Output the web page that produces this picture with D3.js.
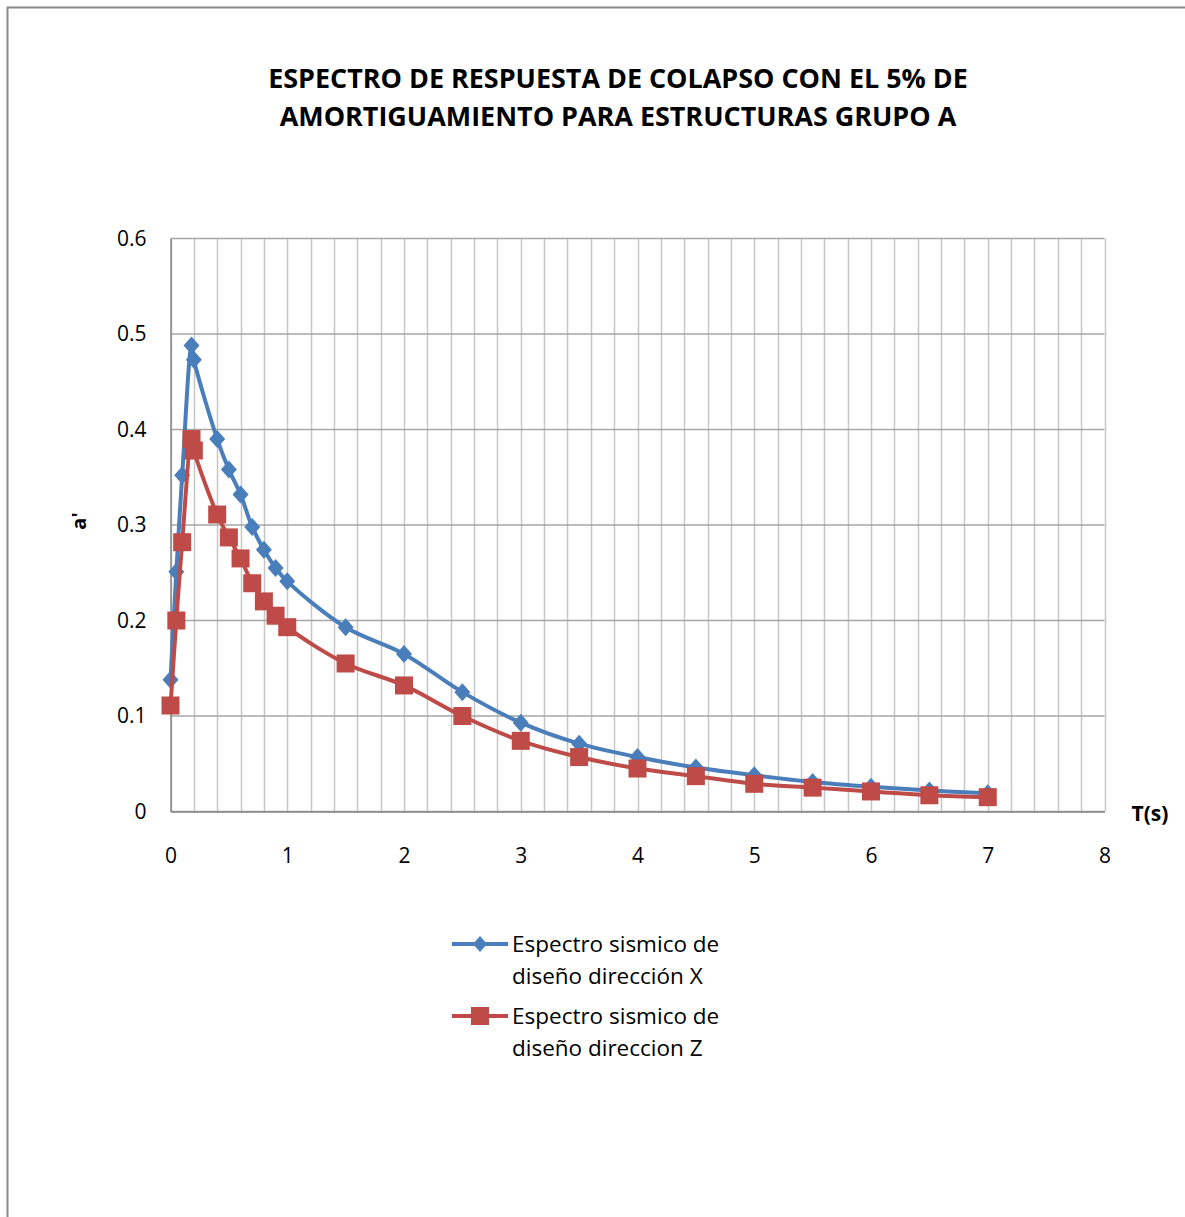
<!DOCTYPE html>
<html lang="es">
<head>
<meta charset="utf-8">
<title>Espectro de respuesta</title>
<script src="https://cdn.jsdelivr.net/npm/d3@7"></script>
<style>
  body { margin: 0; background: #fff; }
  text { font-family: "Open Sans", "Noto Sans", sans-serif; fill: #000; }
  .tick text { font-size: 21px; }
</style>
</head>
<body>
<script>
// periods (s)
var periods = [0, 0.05, 0.1, 0.18, 0.2, 0.4, 0.5, 0.6, 0.7, 0.8, 0.9, 1.0,
               1.5, 2, 2.5, 3, 3.5, 4, 4.5, 5, 5.5, 6, 6.5, 7];
// a' direccion X
var seriesX = [0.138, 0.251, 0.352, 0.488, 0.473, 0.390, 0.358, 0.332, 0.298, 0.274, 0.255, 0.241,
               0.193, 0.165, 0.125, 0.093, 0.071, 0.057, 0.046, 0.038, 0.031, 0.026, 0.022, 0.019];
// a' direccion Z
var seriesZ = [0.111, 0.200, 0.282, 0.390, 0.378, 0.311, 0.287, 0.265, 0.239, 0.220, 0.205, 0.193,
               0.155, 0.132, 0.100, 0.074, 0.057, 0.045, 0.037, 0.029, 0.025, 0.021, 0.017, 0.015];
var titleLines = ["ESPECTRO DE RESPUESTA DE COLAPSO CON EL 5% DE",
                  "AMORTIGUAMIENTO PARA ESTRUCTURAS GRUPO A"];
var legendX = ["Espectro sismico de", "diseño dirección X"];
var legendZ = ["Espectro sismico de", "diseño direccion Z"];
var xTicks = [0, 1, 2, 3, 4, 5, 6, 7, 8];
var yTicks = [0, 0.1, 0.2, 0.3, 0.4, 0.5, 0.6];

var W = 1185, H = 1217;
var blue = "#4a7ebb", red = "#be4b48";

var svg = d3.select("body").append("svg")
    .attr("width", W)
    .attr("height", H);

// chart frame (runs off the right and bottom)
svg.append("rect")
    .attr("x", 7.5).attr("y", 7.5)
    .attr("width", W).attr("height", H)
    .attr("fill", "#fff")
    .attr("stroke", "#8a8a8a")
    .attr("stroke-width", 2);

var x = d3.scaleLinear().domain([0, 8]).range([170.5, 1104.5]);
var y = d3.scaleLinear().domain([0, 0.6]).range([811.5, 238.5]);

// vertical grid every 0.2
var vgrid = d3.range(0, 8.001, 0.2);
svg.append("g").selectAll("line")
    .data(vgrid)
    .enter().append("line")
    .attr("x1", function(d){ return Math.round(x(d)) + 0.5; })
    .attr("x2", function(d){ return Math.round(x(d)) + 0.5; })
    .attr("y1", y(0)).attr("y2", y(0.6))
    .attr("stroke", "#c6c6c6").attr("stroke-width", 1.5);

// horizontal grid
svg.append("g").selectAll("line")
    .data(yTicks)
    .enter().append("line")
    .attr("x1", x(0)).attr("x2", x(8))
    .attr("y1", function(d){ return y(d); })
    .attr("y2", function(d){ return y(d); })
    .attr("stroke", "#a6a6a6").attr("stroke-width", 1.5);

// axes
var xAxis = d3.axisBottom(x).tickValues(xTicks).tickSize(0).tickPadding(37)
    .tickFormat(d3.format("d"));
var yAxis = d3.axisLeft(y).tickValues(yTicks).tickSize(0).tickPadding(24)
    .tickFormat(function(d){ return d === 0 ? "0" : d3.format(".1f")(d); });

svg.append("g")
    .attr("transform", "translate(0," + y(0) + ")")
    .call(xAxis)
    .call(function(g){ g.select(".domain").attr("stroke", "#868686").attr("stroke-width", 1.5); });

svg.append("g")
    .attr("transform", "translate(" + x(0) + ",0)")
    .call(yAxis)
    .call(function(g){ g.select(".domain").attr("stroke", "#868686").attr("stroke-width", 1.5); });

svg.selectAll(".tick text").attr("fill", "#1a1a1a").style("font-family", "'Open Sans', sans-serif");

// series lines
var line = d3.line()
    .x(function(d){ return x(d[0]); })
    .y(function(d){ return y(d[1]); })
    .curve(d3.curveCatmullRom.alpha(0.5));

var dataX = periods.map(function(t, i){ return [t, seriesX[i]]; });
var dataZ = periods.map(function(t, i){ return [t, seriesZ[i]]; });

svg.append("path").datum(dataX)
    .attr("d", line).attr("fill", "none")
    .attr("stroke", blue).attr("stroke-width", 4).attr("stroke-linejoin", "round");

svg.append("g").selectAll("path")
    .data(dataX).enter().append("path")
    .attr("d", "M0,-9L8,0L0,9L-8,0Z")
    .attr("transform", function(d){ return "translate(" + x(d[0]) + "," + y(d[1]) + ")"; })
    .attr("fill", blue);

svg.append("path").datum(dataZ)
    .attr("d", line).attr("fill", "none")
    .attr("stroke", red).attr("stroke-width", 4).attr("stroke-linejoin", "round");

svg.append("g").selectAll("rect")
    .data(dataZ).enter().append("rect")
    .attr("x", function(d){ return x(d[0]) - 9; })
    .attr("y", function(d){ return y(d[1]) - 9; })
    .attr("width", 18).attr("height", 18)
    .attr("fill", red);

// title
var title = svg.append("g");
titleLines.forEach(function(s, i){
    title.append("text")
        .attr("x", 618).attr("y", 88 + i * 38)
        .attr("text-anchor", "middle")
        .style("font-size", "24px").style("font-weight", "bold")
        .text(s);
});
// shrink/grow title to the reference width
var t0 = title.select("text").node();
var fs = 24 * 700 / t0.getComputedTextLength();
title.selectAll("text").style("font-size", fs + "px");

// axis titles
svg.append("text")
    .attr("transform", "translate(86,521) rotate(-90)")
    .attr("text-anchor", "middle")
    .style("font-size", "20px").style("font-weight", "bold")
    .text("a'");

svg.append("text")
    .attr("x", 1150).attr("y", 821)
    .attr("text-anchor", "middle")
    .style("font-size", "21px").style("font-weight", "bold")
    .text("T(s)");

// legend
var legend = [
    {color: blue, lines: legendX, shape: "diamond"},
    {color: red, lines: legendZ, shape: "square"}
];
legend.forEach(function(item, i){
    var g = svg.append("g").attr("transform", "translate(452," + (944 + i * 72) + ")");
    g.append("line").attr("x1", 0).attr("x2", 56)
        .attr("stroke", item.color).attr("stroke-width", 4);
    if (item.shape === "diamond") {
        g.append("path").attr("d", "M28,-8L35,0L28,8L21,0Z").attr("fill", item.color);
    } else {
        g.append("rect").attr("x", 19).attr("y", -9).attr("width", 18).attr("height", 18)
            .attr("fill", item.color);
    }
    item.lines.forEach(function(s, j){
        g.append("text")
            .attr("x", 60).attr("y", 8 + j * 32)
            .style("font-size", "22.5px")
            .attr("fill", "#1a1a1a")
            .text(s);
    });
});
</script>
</body>
</html>
